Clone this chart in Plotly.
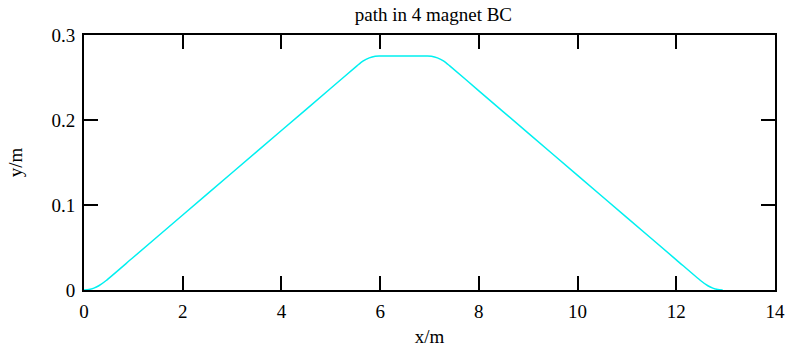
import plotly.graph_objects as go

# Beam path through the four-magnet bunch compressor (horizontal offset vs. position)
x_m = [0, 0.1, 0.2, 0.3, 0.45, 1.0, 2.0, 3.0, 4.0, 5.0, 5.53, 5.65, 5.78, 5.9, 5.98,
       6.96, 7.04, 7.16, 7.29, 7.41, 8.0, 9.0, 10.0, 11.0, 12.0, 12.49, 12.64, 12.74, 12.84, 12.94]
y_m = [0, 0.0006, 0.0022, 0.005, 0.0112, 0.0385, 0.0882, 0.1379, 0.1876, 0.2373, 0.2637,
       0.2693, 0.2731, 0.2750, 0.2753,
       0.2753, 0.2750, 0.2731, 0.2693, 0.2637, 0.2343, 0.1846, 0.1349, 0.0852, 0.0355,
       0.0112, 0.005, 0.0022, 0.0006, 0]

x_ticks = [0, 2, 4, 6, 8, 10, 12, 14]
y_ticks = [0, 0.1, 0.2, 0.3]

font_family = "Liberation Serif, Times New Roman, serif"

fig = go.Figure(
    go.Scatter(
        x=x_m, y=y_m, mode="lines",
        line=dict(color="#00F0F0", width=1.5, shape="spline", smoothing=0.6),
        hoverinfo="skip",
    )
)

axis_common = dict(
    showgrid=False, zeroline=False, showline=True, linecolor="black", linewidth=2,
    mirror="allticks", ticks="inside", ticklen=14, tickwidth=1.5, tickcolor="black",
    tickfont=dict(family=font_family, size=19, color="black"), automargin=False,
)

fig.update_layout(
    width=788, height=349,
    margin=dict(l=84, r=13, t=35, b=59, autoexpand=False),
    paper_bgcolor="white", plot_bgcolor="white",
    showlegend=False,
    title=dict(text="path in 4 magnet BC", x=0.55, xanchor="center", y=0.96, yanchor="middle",
               font=dict(family=font_family, size=19, color="black")),
    xaxis=dict(range=[0, 14], tickvals=x_ticks, ticktext=[str(v) for v in x_ticks],
               ticklabelstandoff=3,
               title=dict(text="x/m", font=dict(family=font_family, size=19, color="black"), standoff=9),
               **axis_common),
    yaxis=dict(range=[0, 0.3], tickvals=y_ticks, ticktext=["0", "0.1", "0.2", "0.3"],
               ticklabelstandoff=3,
               title=dict(text="y/m", font=dict(family=font_family, size=19, color="black"), standoff=24),
               **axis_common),
)

fig.write_html("out.html")
